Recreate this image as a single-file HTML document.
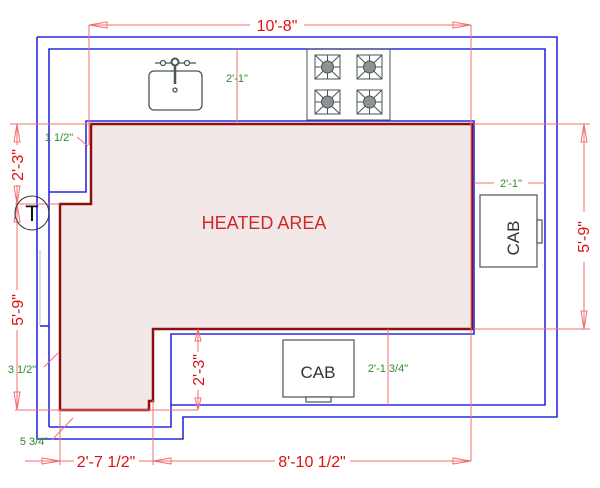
<!DOCTYPE html>
<html><head><meta charset="utf-8"><style>html,body{margin:0;padding:0;background:#fff}svg{display:block}</style></head>
<body>
<svg width="600" height="488" viewBox="0 0 600 488" xmlns="http://www.w3.org/2000/svg" font-family="Liberation Sans, sans-serif">
<rect width="600" height="488" fill="#fff"/>
<polygon points="91,124 472,124 472,329 153,329 153,401 149,401 149,410 60,410 60,204 91,204" fill="#f3e8e8" stroke="#8b1010" stroke-width="2.5"/>
<g fill="none" stroke="#2a2ae0" stroke-width="1.6">
<polyline points="37,37 557,37 557,417 183,417 183,439 37,439 37,37"/>
<polyline points="49,427 49,49 545,49 545,405 171,405"/>
<polyline points="49,192 86,192 86,121 474,121 474,334 171,334 171,427 49,427"/>
<line x1="40" y1="326" x2="49" y2="326"/>
</g>
<line x1="40" y1="250" x2="40" y2="326" stroke="#99a" stroke-width="0.7"/>
<g stroke="#f07070" stroke-width="1" fill="none">
<line x1="89" y1="25" x2="250" y2="25"/><line x1="304" y1="25" x2="471" y2="25"/>
<line x1="89" y1="25" x2="89" y2="145"/>
<line x1="471" y1="25" x2="471" y2="461"/>
<line x1="237" y1="49" x2="237" y2="124"/>
<line x1="474" y1="124" x2="590" y2="124"/><line x1="474" y1="329" x2="590" y2="329"/>
<line x1="584" y1="124" x2="584" y2="212"/><line x1="584" y1="262" x2="584" y2="329"/>
<line x1="10" y1="124" x2="91" y2="124"/><line x1="15" y1="204" x2="60" y2="204"/>
<line x1="15" y1="410" x2="198" y2="410"/>
<line x1="17" y1="124" x2="17" y2="145"/><line x1="17" y1="185" x2="17" y2="290"/><line x1="17" y1="330" x2="17" y2="410"/>
<line x1="198" y1="329" x2="198" y2="352"/><line x1="198" y1="390" x2="198" y2="410"/>
<line x1="474" y1="183" x2="494" y2="183"/><line x1="528" y1="183" x2="545" y2="183"/>
<line x1="388" y1="329" x2="388" y2="405"/>
<line x1="60" y1="410" x2="60" y2="465"/><line x1="153" y1="400" x2="153" y2="465"/>
<line x1="25" y1="461" x2="74" y2="461"/><line x1="139" y1="461" x2="275" y2="461"/><line x1="350" y1="461" x2="471" y2="461"/>
<line x1="44" y1="367" x2="58" y2="353"/><line x1="52" y1="440" x2="73" y2="418"/>
<line x1="77" y1="137" x2="88" y2="146"/>
</g>
<g stroke="#f07070" stroke-width="1" fill="none">
<polygon points="89,25 107,22 107,28"/>
<polygon points="471,25 453,22 453,28"/>
<polygon points="584,124 581,142 587,142"/><polygon points="584,329 581,311 587,311"/>
<polygon points="17,124 14,142 20,142"/><polygon points="17,204 14,186 20,186"/><polygon points="17,204 14,222 20,222"/><polygon points="17,410 14,392 20,392"/>
<polygon points="198,329 195,341 201,341"/><polygon points="198,410 195,398 201,398"/>
<polygon points="60,461 42,458 42,464"/><polygon points="153,461 171,458 171,464"/><polygon points="471,461 453,458 453,464"/>
</g>
<g stroke="#4a5555" fill="none" stroke-width="1.3">
<rect x="149" y="71" width="53" height="39" rx="5"/>
<line x1="155" y1="63" x2="196" y2="63"/>
<circle cx="163" cy="63" r="2.5" fill="#fff"/><circle cx="187" cy="63" r="2.5" fill="#fff"/>
<circle cx="175" cy="62" r="3.5" fill="#fff" stroke-width="2"/>
<line x1="175" y1="65" x2="175" y2="84" stroke-width="2.5"/>
<circle cx="175" cy="90" r="2"/>
</g>
<g stroke="#4a5555" fill="none" stroke-width="1">
<rect x="307" y="49" width="83" height="71"/>
<g id="b"><rect x="315" y="55" width="25" height="24"/><line x1="315" y1="55" x2="340" y2="79"/><line x1="340" y1="55" x2="315" y2="79"/><line x1="327.5" y1="55" x2="327.5" y2="79"/><line x1="315" y1="67" x2="340" y2="67"/><circle cx="327.5" cy="67" r="6" fill="#8a9494"/></g>
<use href="#b" x="42"/><use href="#b" y="35"/><use href="#b" x="42" y="35"/>
</g>
<g stroke="#4a5555" fill="#fff" stroke-width="1.2">
<rect x="480" y="195" width="57" height="72"/><rect x="537" y="220" width="5" height="23"/>
<rect x="283" y="340" width="71" height="57"/><rect x="306" y="397" width="25" height="5"/>
</g>
<text x="0" y="0" transform="translate(519,238) rotate(-90)" text-anchor="middle" font-size="17" fill="#333">CAB</text>
<text x="318" y="378" text-anchor="middle" font-size="17" fill="#333">CAB</text>
<circle cx="32" cy="213" r="17" fill="none" stroke="#333" stroke-width="1"/>
<text x="32" y="221" text-anchor="middle" font-size="22" fill="#111">T</text>
<text x="264" y="229" text-anchor="middle" font-size="18" fill="#d02828">HEATED AREA</text>
<g fill="#e01010" font-size="16">
<text x="277" y="31" text-anchor="middle">10'-8"</text>
<text transform="translate(589,237) rotate(-90)" text-anchor="middle">5'-9"</text>
<text transform="translate(23,165) rotate(-90)" text-anchor="middle">2'-3"</text>
<text transform="translate(23,310) rotate(-90)" text-anchor="middle">5'-9"</text>
<text transform="translate(204,370) rotate(-90)" text-anchor="middle">2'-3"</text>
<text x="106" y="467" text-anchor="middle">2'-7 1/2"</text>
<text x="312" y="467" text-anchor="middle">8'-10 1/2"</text>
</g>
<g fill="#2e8b2e" font-size="11">
<text x="237" y="82" text-anchor="middle">2'-1"</text>
<text x="59" y="141" text-anchor="middle">1 1/2"</text>
<text x="511" y="187" text-anchor="middle">2'-1"</text>
<text x="388" y="372" text-anchor="middle">2'-1 3/4"</text>
<text x="22" y="373" text-anchor="middle">3 1/2"</text>
<text x="34" y="445" text-anchor="middle">5 3/4"</text>
</g>
</svg>
</body></html>
